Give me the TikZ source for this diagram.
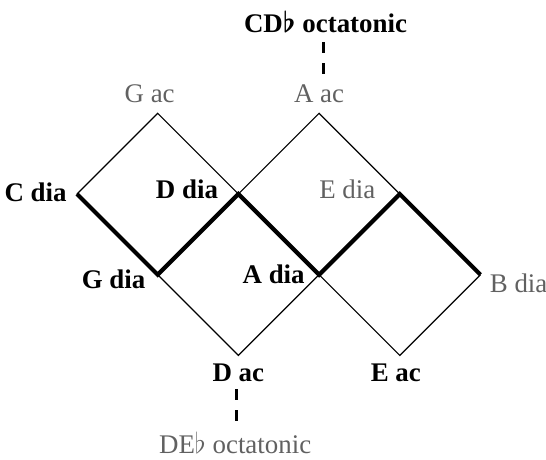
\documentclass[tikz,border=0pt]{standalone}
\usepackage{fontspec}
\setmainfont{Liberation Serif}
\usetikzlibrary{positioning}
\tikzset{
  lab/.style={inner sep=2bp, font=\fontsize{13.5}{16}\selectfont},
  dim/.style={lab, black!62},
  key/.style={lab, font=\fontsize{13.5}{16}\selectfont\bfseries},
  edge/.style={line width=0.6bp},
  chain/.style={line width=2.1bp},
  link/.style={line width=1.4bp, dash pattern=on 5.5bp off 5bp}
}
\begin{document}
\begin{tikzpicture}[x=40.35bp,y=40.35bp]
    \useasboundingbox (-0.954,-3.296) rectangle (5.812,2.404);
    % Gitterpunkter
    \coordinate (Cdia) at (0,0);
    \coordinate (Gac)  at (1,1);
    \coordinate (Ddia) at (2,0);
    \coordinate (Gdia) at (1,-1);
    \coordinate (Aac)  at (3,1);
    \coordinate (Adia) at (3,-1);
    \coordinate (Edia) at (4,0);
    \coordinate (Bdia) at (5,-1);
    \coordinate (Dac)  at (2,-2);
    \coordinate (Eac)  at (4,-2);
    % Tynde kanter
    \draw[edge] (Cdia) -- (Gac) -- (Ddia) -- (Aac) -- (Edia);
    \draw[edge] (Gdia) -- (Dac) -- (Adia) -- (Eac) -- (Bdia);
    % Tyk kaede af diatoniske
    \draw[chain] (Cdia) -- (Gdia) -- (Ddia) -- (Adia) -- (Edia) -- (Bdia);
    % Navne
    \node[dim, above=3bp of Gac, xshift=-4bp] (lGac) {G ac};
    \node[dim, above=3bp of Aac] (lAac) {A ac};
    \node[key, left=3bp of Cdia, yshift=1bp] (lCdia) {C dia};
    \node[key, left=8bp of Ddia, yshift=2.5bp] (lDdia) {D dia};
    \node[dim, left=10bp of Edia, yshift=2.5bp] (lEdia) {E dia};
    \node[key, left=4bp of Gdia, yshift=-2.5bp] (lGdia) {G dia};
    \node[key, left=5bp of Adia] (lAdia) {A dia};
    \node[dim, right=2.5bp of Bdia, yshift=-4.5bp] (lBdia) {B dia};
    \node[key, below=2bp of Dac] (lDac) {D ac};
    \node[key, below=2bp of Eac, xshift=-2bp] (lEac) {E ac};
    % Oktatoniske
    \node[key, anchor=base] (cdb) at (3.08,2.0) {CD{\boldmath$\flat$} octatonic};
    \node[dim, anchor=base] (deb) at (1.96,-3.22) {DE$\flat$ octatonic};
    \draw[link] ([xshift=-1bp,yshift=-4.7bp]cdb.base) -- ([xshift=-1bp,yshift=-21.7bp]cdb.base);
    \draw[link] ([xshift=-1bp,yshift=-4bp]lDac.base) -- ([xshift=-1bp,yshift=-20bp]lDac.base);
\end{tikzpicture}
\end{document}
